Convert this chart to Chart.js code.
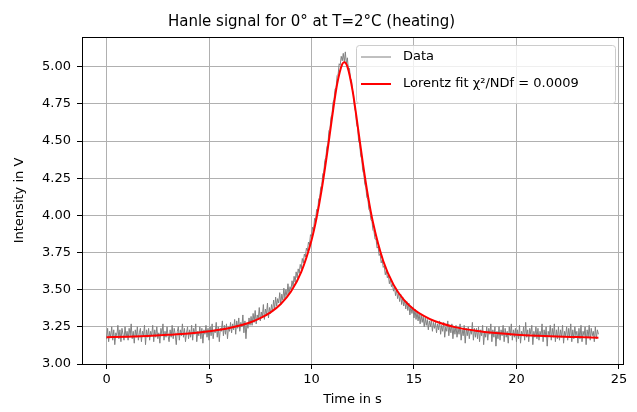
<!DOCTYPE html>
<html>
<head>
<meta charset="utf-8">
<script src="https://cdn.jsdelivr.net/npm/chart.js@4.4.1/dist/chart.umd.min.js"></script>
<style>
  html, body { margin: 0; padding: 0; background: #fff; }
  #wrap { width: 637px; height: 412px; }
</style>
</head>
<body>
<div id="wrap"><canvas id="chartHanle" width="637" height="412"></canvas></div>
<script>
// ===============================
// DATA
// ===============================
const chartTitle = "Hanle signal for 0° at T=2°C (heating)";
const xLabel = "Time in s";
const yLabel = "Intensity in V";
const dataLabel = "Data";
const fitLabel = "Lorentz fit χ²/NDf = 0.0009";

const xTicks = [0, 5, 10, 15, 20, 25];
const yTicks = [3.00, 3.25, 3.50, 3.75, 4.00, 4.25, 4.50, 4.75, 5.00];

// measured signal, one sample every 0.05 s from 0 to 24 s
const sampleStep = 0.05;
const signal = [
  3.17,
  3.24, 3.15, 3.22, 3.18, 3.25, 3.16, 3.23, 3.13, 3.21, 3.19,
  3.26, 3.17, 3.23, 3.15, 3.24, 3.20, 3.16, 3.25, 3.18, 3.22,
  3.16, 3.24, 3.19, 3.27, 3.17, 3.22, 3.14, 3.23, 3.18, 3.25,
  3.16, 3.21, 3.24, 3.15, 3.22, 3.19, 3.26, 3.13, 3.23, 3.18,
  3.24, 3.16, 3.22, 3.19, 3.26, 3.15, 3.23, 3.18, 3.25, 3.17,
  3.21, 3.14, 3.24, 3.20, 3.27, 3.16, 3.22, 3.18, 3.25, 3.19,
  3.15, 3.23, 3.18, 3.26, 3.17, 3.24, 3.20, 3.13, 3.22, 3.25,
  3.16, 3.23, 3.19, 3.27, 3.18, 3.24, 3.15, 3.21, 3.25, 3.17,
  3.23, 3.18, 3.26, 3.16, 3.24, 3.20, 3.27, 3.15, 3.22, 3.19,
  3.25, 3.17, 3.24, 3.14, 3.23, 3.20, 3.26, 3.18, 3.24, 3.16,
  3.25, 3.19, 3.27, 3.17, 3.23, 3.21, 3.28, 3.18, 3.25, 3.15,
  3.24, 3.22, 3.29, 3.19, 3.26, 3.20, 3.27, 3.17, 3.25, 3.22,
  3.28, 3.21, 3.27, 3.23, 3.30, 3.20, 3.29, 3.24, 3.31, 3.22,
  3.28, 3.25, 3.33, 3.21, 3.29, 3.17, 3.27, 3.24, 3.31, 3.26,
  3.32, 3.26, 3.34, 3.28, 3.36, 3.27, 3.33, 3.30, 3.38, 3.29,
  3.35, 3.31, 3.40, 3.30, 3.37, 3.33, 3.41, 3.31, 3.38, 3.34,
  3.40, 3.35, 3.43, 3.37, 3.45, 3.39, 3.44, 3.41, 3.48, 3.40,
  3.47, 3.43, 3.51, 3.44, 3.50, 3.46, 3.54, 3.47, 3.52, 3.50,
  3.56, 3.52, 3.59, 3.55, 3.62, 3.58, 3.64, 3.61, 3.67, 3.64,
  3.71, 3.68, 3.74, 3.72, 3.78, 3.76, 3.82, 3.80, 3.87, 3.86,
  3.92, 3.90, 3.98, 3.97, 4.04, 4.03, 4.11, 4.12, 4.19, 4.20,
  4.28, 4.29, 4.37, 4.39, 4.46, 4.48, 4.57, 4.58, 4.66, 4.68,
  4.76, 4.78, 4.85, 4.86, 4.94, 4.95, 5.02, 5.01, 5.07, 5.04,
  5.09, 5.03, 5.10, 5.02, 5.06, 4.98, 4.99, 4.92, 4.91, 4.84,
  4.81, 4.72, 4.70, 4.61, 4.59, 4.50, 4.48, 4.40, 4.38, 4.30,
  4.28, 4.21, 4.19, 4.12, 4.11, 4.04, 4.03, 3.97, 3.96, 3.90,
  3.89, 3.84, 3.84, 3.78, 3.79, 3.73, 3.74, 3.68, 3.70, 3.65,
  3.66, 3.60, 3.63, 3.58, 3.60, 3.54, 3.57, 3.52, 3.54, 3.49,
  3.52, 3.46, 3.50, 3.44, 3.48, 3.42, 3.47, 3.40, 3.45, 3.39,
  3.43, 3.37, 3.42, 3.36, 3.41, 3.33, 3.39, 3.34, 3.38, 3.31,
  3.37, 3.30, 3.35, 3.29, 3.34, 3.27, 3.33, 3.28, 3.32, 3.25,
  3.31, 3.26, 3.30, 3.23, 3.29, 3.25, 3.30, 3.22, 3.28, 3.24,
  3.28, 3.21, 3.27, 3.23, 3.29, 3.20, 3.26, 3.22, 3.28, 3.18,
  3.25, 3.22, 3.29, 3.19, 3.26, 3.21, 3.27, 3.17, 3.25, 3.20,
  3.26, 3.18, 3.24, 3.20, 3.27, 3.16, 3.23, 3.19, 3.26, 3.14,
  3.24, 3.19, 3.25, 3.17, 3.23, 3.20, 3.28, 3.16, 3.24, 3.18,
  3.24, 3.17, 3.25, 3.15, 3.23, 3.19, 3.26, 3.13, 3.22, 3.18,
  3.25, 3.16, 3.24, 3.20, 3.27, 3.15, 3.23, 3.18, 3.25, 3.12,
  3.22, 3.17, 3.25, 3.16, 3.23, 3.19, 3.26, 3.15, 3.24, 3.18,
  3.22, 3.14, 3.25, 3.19, 3.27, 3.16, 3.23, 3.18, 3.24, 3.15,
  3.23, 3.17, 3.26, 3.14, 3.22, 3.19, 3.25, 3.16, 3.28, 3.18,
  3.23, 3.15, 3.24, 3.20, 3.26, 3.13, 3.22, 3.18, 3.25, 3.17,
  3.24, 3.16, 3.22, 3.19, 3.27, 3.15, 3.23, 3.18, 3.25, 3.12,
  3.22, 3.19, 3.26, 3.16, 3.24, 3.18, 3.27, 3.15, 3.23, 3.17,
  3.25, 3.16, 3.23, 3.18, 3.26, 3.14, 3.22, 3.19, 3.25, 3.16,
  3.24, 3.18, 3.27, 3.15, 3.23, 3.17, 3.25, 3.19, 3.22, 3.14,
  3.24, 3.17, 3.26, 3.15, 3.22, 3.19, 3.25, 3.13, 3.23, 3.18,
  3.26, 3.16, 3.24, 3.19, 3.22, 3.15, 3.25, 3.17, 3.23, 3.20
];

// Lorentz fit curve
const fitTime = [
  0, 1, 2, 3, 4, 5, 6, 7, 7.5, 8, 8.5, 9, 9.5, 10, 10.25, 10.5, 10.75,
  11, 11.25, 11.5, 11.6, 11.75, 12, 12.25, 12.5, 12.75, 13, 13.5, 14,
  14.5, 15, 15.5, 16, 17, 18, 19, 20, 21, 22, 23, 24
];
const fitValue = [
  3.180, 3.184, 3.189, 3.196, 3.205, 3.220, 3.242, 3.279, 3.308, 3.347,
  3.404, 3.488, 3.620, 3.833, 3.985, 4.176, 4.405, 4.656, 4.883, 5.017,
  5.030, 5.001, 4.843, 4.606, 4.357, 4.135, 3.952, 3.693, 3.534, 3.433,
  3.367, 3.322, 3.289, 3.248, 3.224, 3.208, 3.197, 3.190, 3.185, 3.181,
  3.177
];

// ===============================
// STYLE
// ===============================
const FONT = "DejaVu Sans";
const GRID = "#b0b0b0";

const signalPoints = signal.map((v, i) => ({ x: +(i * sampleStep).toFixed(2), y: v }));
const fitPoints = fitTime.map((t, i) => ({ x: t, y: fitValue[i] }));

// rahmen oben/rechts wie matplotlib
const framePlugin = {
  id: "frame",
  afterDatasetsDraw(chart) {
    const { ctx, chartArea: a } = chart;
    ctx.save();
    ctx.strokeStyle = "#000";
    ctx.lineWidth = 1;
    ctx.strokeRect(Math.round(a.left) + 0.5, Math.round(a.top) + 0.5,
      Math.round(a.right - a.left), Math.round(a.bottom - a.top));
    ctx.restore();
  }
};

// legende innen oben rechts
const legendPlugin = {
  id: "innerLegend",
  afterDraw(chart) {
    const { ctx } = chart;
    const x = 356, y = 45, w = 259, h = 58, r = 3;
    ctx.save();
    ctx.beginPath();
    ctx.roundRect(x + 0.5, y + 0.5, w, h, r);
    ctx.fillStyle = "rgba(255,255,255,0.8)";
    ctx.fill();
    ctx.strokeStyle = "#cccccc";
    ctx.lineWidth = 1;
    ctx.stroke();

    const rows = [
      { label: dataLabel, color: "gray", width: 1, y: 57 },
      { label: fitLabel, color: "red", width: 2, y: 84 }
    ];
    ctx.font = `13px "${FONT}"`;
    ctx.textBaseline = "middle";
    rows.forEach(row => {
      ctx.beginPath();
      ctx.moveTo(361, row.y);
      ctx.lineTo(391, row.y);
      ctx.strokeStyle = row.color;
      ctx.lineWidth = row.width;
      ctx.stroke();
      ctx.fillStyle = "#000";
      ctx.fillText(row.label, 403, row.y);
    });
    ctx.restore();
  }
};

const chartHanle = new Chart(document.getElementById("chartHanle"), {
  type: "line",
  data: {
    datasets: [
      {
        label: fitLabel,
        data: fitPoints,
        borderColor: "red",
        borderWidth: 2,
        pointRadius: 0,
        cubicInterpolationMode: "monotone",
        order: 1
      },
      {
        label: dataLabel,
        data: signalPoints,
        borderColor: "gray",
        borderWidth: 1,
        pointRadius: 0,
        tension: 0,
        order: 2
      }
    ]
  },
  options: {
    responsive: false,
    animation: false,
    devicePixelRatio: 1,
    layout: { padding: { left: 0, right: 14, top: 0, bottom: 0 } },
    plugins: {
      legend: { display: false },
      tooltip: { enabled: false },
      title: {
        display: true,
        text: chartTitle,
        color: "#000",
        font: { family: FONT, size: 15, weight: "normal" },
        padding: { top: 13, bottom: 6 }
      }
    },
    scales: {
      x: {
        type: "linear",
        min: -1.2,
        max: 25.2,
        afterBuildTicks: s => { s.ticks = xTicks.map(v => ({ value: v })); },
        afterFit: s => { s.height = 48; },
        ticks: {
          color: "#000",
          font: { family: FONT, size: 13 },
          padding: 3,
          maxRotation: 0,
          callback: v => String(v)
        },
        grid: { color: GRID, lineWidth: 1, tickColor: "#000", tickLength: 5 },
        border: { color: "#000", width: 1 },
        title: {
          display: true,
          text: xLabel,
          color: "#000",
          font: { family: FONT, size: 13 },
          padding: { top: 0, bottom: 5 }
        }
      },
      y: {
        type: "linear",
        min: 3.0,
        max: 5.2,
        afterBuildTicks: s => { s.ticks = yTicks.map(v => ({ value: v })); },
        afterFit: s => { s.width = 82; },
        ticks: {
          color: "#000",
          font: { family: FONT, size: 13 },
          padding: 6,
          callback: v => Number(v).toFixed(2)
        },
        grid: { color: GRID, lineWidth: 1, tickColor: "#000", tickLength: 5 },
        border: { color: "#000", width: 1 },
        title: {
          display: true,
          text: yLabel,
          color: "#000",
          font: { family: FONT, size: 13 },
          padding: { top: 12, bottom: 0 }
        }
      }
    }
  },
  plugins: [framePlugin, legendPlugin]
});
</script>
</body>
</html>
